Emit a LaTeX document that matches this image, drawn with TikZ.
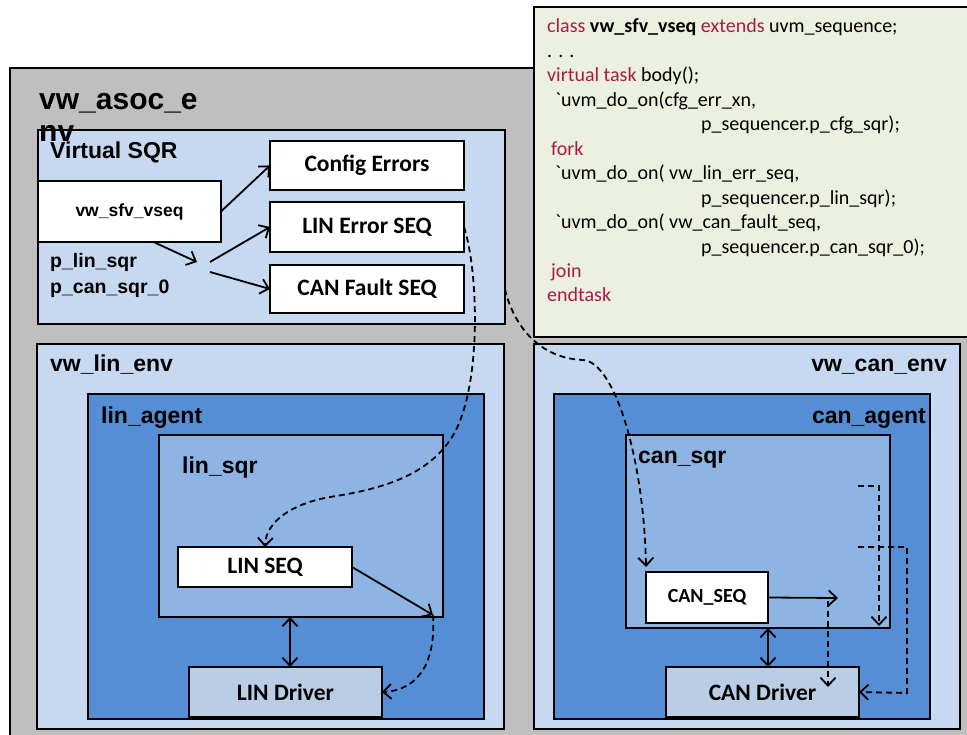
\documentclass[tikz,border=0pt]{standalone}
\usepackage{fontspec}
\newfontfamily\arial{Liberation Sans}
\newfontfamily\calib{Carlito}
\usetikzlibrary{arrows.meta}
\definecolor{outergray}{HTML}{BFBFBF}
\definecolor{codebg}{HTML}{EBF1DE}
\definecolor{envblue}{HTML}{C6D9F0}
\definecolor{agentblue}{HTML}{558ED5}
\definecolor{sqrblue}{HTML}{8EB4E3}
\definecolor{drvblue}{HTML}{B9CDE5}
\definecolor{kw}{RGB}{172,24,74}
\begin{document}
\begin{tikzpicture}[x=1pt,y=-1pt,
  frame/.style={draw=black, line width=1.8pt, rectangle, inner sep=0pt, outer sep=0pt},
  lbl/.style={inner sep=0pt, anchor=base west, font=\arial\bfseries\fontsize{23}{27}\selectfont},
  rlbl/.style={lbl, anchor=base east},
  boxtxt/.style={font=\calib\bfseries\fontsize{23.5}{27}\selectfont},
  code/.style={anchor=base west, inner sep=0pt, font=\calib\fontsize{20}{24}\selectfont},
  conn/.style={line width=1.8pt, -{Straight Barb[length=8pt,width=15pt]}},
  dconn/.style={conn, dash pattern=on 6pt off 4pt},
  both/.style={line width=1.8pt, {Straight Barb[length=8pt,width=15pt]}-{Straight Barb[length=8pt,width=15pt]}}]
\useasboundingbox (0,0) rectangle (967,735);
\clip (0,0) rectangle (967,735);

% top-level environment
\draw[fill=outergray, draw=black, line width=1.8pt] (10,68) rectangle (990,760);

% sequence source listing
\draw[fill=codebg, draw=black, line width=1.8pt] (534,7) rectangle (990,337);
\node[code] (c0) at (547,33) {\textcolor{kw}{class} \textbf{vw\_sfv\_vseq} \textcolor{kw}{extends} uvm\_sequence;};
\node[code] (c1) at (547,57.45) {. . .};
\node[code] (c2) at (547,81.9) {\textcolor{kw}{virtual task} body();};
\node[code] (c3) at (555,106.35) {`uvm\_do\_on(cfg\_err\_xn,};
\node[code] (c4) at (701,130.8) {p\_sequencer.p\_cfg\_sqr);};
\node[code] (c5) at (551,155.25) {\textcolor{kw}{fork}};
\node[code] (c6) at (555,179.7) {`uvm\_do\_on( vw\_lin\_err\_seq,};
\node[code] (c7) at (701,204.15) {p\_sequencer.p\_lin\_sqr);};
\node[code] (c8) at (555,228.6) {`uvm\_do\_on( vw\_can\_fault\_seq,};
\node[code] (c9) at (701,253.05) {p\_sequencer.p\_can\_sqr\_0);};
\node[code] (c10) at (551,277.5) {\textcolor{kw}{join}};
\node[code] (c11) at (547,301.95) {\textcolor{kw}{endtask}};

% virtual sequencer
\node[frame, fill=envblue, minimum width=467pt, minimum height=194pt] (vsqr) at (271.5,227) {};
\node[lbl, font=\arial\bfseries\fontsize{30}{34}\selectfont] (envname1) at (39,110) {vw\_asoc\_e};
\node[lbl, font=\arial\bfseries\fontsize{30}{34}\selectfont] (envname2) at (39,142) {nv};
\node[lbl] (vsqrlbl) at (50,159) {Virtual SQR};
\node[frame, fill=white, minimum width=183pt, minimum height=61pt,
      font=\arial\bfseries\fontsize{17.5}{20}\selectfont] (vseq) at (129.5,211.5) {vw\_sfv\_vseq};
\node[lbl, font=\arial\bfseries\fontsize{19.5}{22}\selectfont] (plin) at (50,268) {p\_lin\_sqr};
\node[lbl, font=\arial\bfseries\fontsize{19.5}{22}\selectfont] (pcan) at (50,294) {p\_can\_sqr\_0};
\node[frame, fill=white, boxtxt, minimum width=194pt, minimum height=49pt] (cfg) at (367,165.5) {Config Errors};
\node[frame, fill=white, boxtxt, minimum width=194pt, minimum height=50pt] (linerr) at (367,227) {LIN Error SEQ};
\node[frame, fill=white, boxtxt, minimum width=194pt, minimum height=48pt] (canf) at (367,289) {CAN Fault SEQ};

\coordinate (fa) at (197,262);
\coordinate (fb) at (210,262);
\coordinate (fc) at (210,272);
\draw[conn] (vseq.east) -- (cfg.west);
\draw[conn] ([xshift=24pt]vseq.south) -- (fa);
\draw[conn] (fb) -- (linerr.west);
\draw[conn] (fc) -- (canf.west);

% LIN environment
\node[frame, fill=envblue, minimum width=467pt, minimum height=385pt] (linenv) at (270.5,536.5) {};
\node[lbl] at (50,372) {vw\_lin\_env};
\node[frame, fill=agentblue, minimum width=396pt, minimum height=325pt] (linagent) at (286,556.5) {};
\node[lbl] at (101,423) {lin\_agent};
\node[frame, fill=sqrblue, minimum width=284pt, minimum height=182pt] (linsqr) at (301,526) {};
\node[lbl] at (182,473) {lin\_sqr};
\node[frame, fill=white, boxtxt, minimum width=174pt, minimum height=40pt] (linseq) at (265,567) {LIN SEQ};
\node[frame, fill=drvblue, boxtxt, minimum width=193pt, minimum height=50pt] (lindrv) at (285.5,692) {LIN Driver};

\coordinate (linpt) at (433,615);
\draw[conn] (linseq.east) -- (linpt);
\draw[both] ([xshift=4.5pt]lindrv.north |- linsqr.south) -- ([xshift=4.5pt]lindrv.north);
\draw[dconn] (linpt) .. controls (436,660) and (420,690) .. (lindrv.east);

% CAN environment
\node[frame, fill=envblue, minimum width=426pt, minimum height=385pt] (canenv) at (747,536.5) {};
\node[rlbl] at (947,372) {vw\_can\_env};
\node[frame, fill=agentblue, minimum width=376pt, minimum height=325pt] (canagent) at (742,556.5) {};
\node[rlbl] at (926,423) {can\_agent};
\node[frame, fill=sqrblue, minimum width=264pt, minimum height=193pt] (cansqr) at (758,531.5) {};
\node[lbl] at (638,463) {can\_sqr};
\node[frame, fill=white, boxtxt, font=\calib\bfseries\fontsize{20}{23}\selectfont,
      minimum width=122pt, minimum height=51pt] (canseq) at (707,597.5) {CAN\_SEQ};
\node[frame, fill=drvblue, boxtxt, minimum width=193pt, minimum height=50pt] (candrv) at (762.5,692) {CAN Driver};

\coordinate (canpt) at (838,598);
\coordinate (cd1) at (828,601);
\coordinate (cd1e) at (828,687);
\coordinate (cd2) at (858,486);
\coordinate (cd2e) at (879,626);
\coordinate (cd3) at (858,547);
\coordinate (cd3c) at (907,693);
\draw[conn] (canseq.east) -- (canpt);
\draw[both] (canseq.east |- cansqr.south) -- (canseq.east |- candrv.north);
\draw[dconn] (cd1) -- (cd1e);
\draw[dconn] (cd2) -| (cd2e);
\draw[dconn] (cd3) -| (cd3c) -- (candrv.east);

% sequences dispatched onto the agent sequencers
\draw[dconn] (linerr.east) .. controls (478,270) and (482,380) .. (455,432)
  .. controls (430,478) and (375,490) .. (330,497)
  .. controls (295,503) and (266,520) .. (linseq.north);
\coordinate (vsqrout) at (vsqr.east |- canf.east);
\draw[dconn] (vsqrout) .. controls (512,320) and (535,358) .. (583,360)
  .. controls (615,362) and (644,460) .. ([yshift=5pt]canseq.north west);
\end{tikzpicture}
\end{document}
